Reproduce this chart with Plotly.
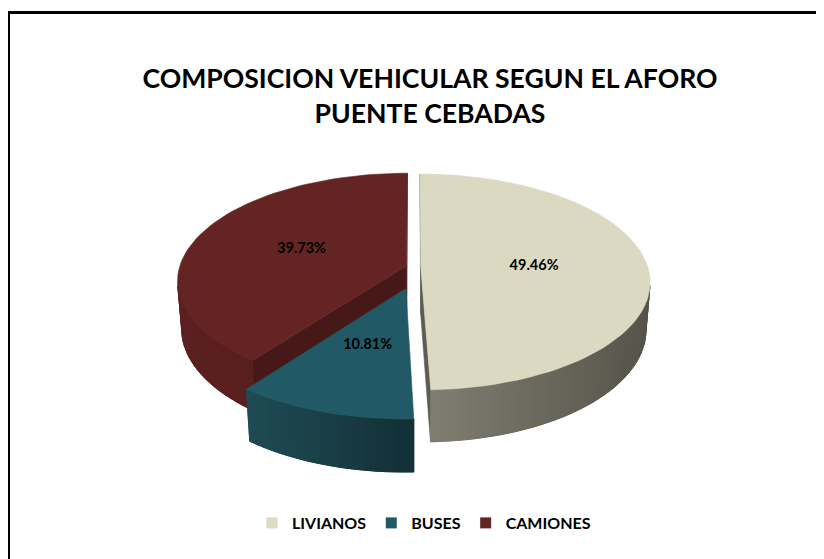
import numpy as np
import plotly.graph_objects as go

# ---------------- data ----------------
categories = ["LIVIANOS", "BUSES", "CAMIONES"]
values = [49.46, 10.81, 39.73]          # percent
title_lines = ["COMPOSICION VEHICULAR SEGUN EL AFORO", "PUENTE CEBADAS"]

# ---------------- style ----------------
top_colors = ["#DCD9C3", "#215966", "#632423"]
legend_colors = ["#DDD9C3", "#215967", "#632523"]
wall_left_colors = ["#827F73", "#1F4B55", "#5B201F"]
wall_right_colors = ["#56534A", "#132F36", "#531D1C"]
cut_colors = ["#5E5B52", "#17363E", "#461918"]
pulls = [0.03, 0.20, 0.035]
pull_dir_deg = [None, 190.0, None]      # explosion direction (None = slice middle)
draw_order = [2, 0, 1]

W, H = 824, 559
OFF = 8                      # page body margin of the browser
CX, CY = 414.0, 267.0
PHI = np.radians(27.8)
CS, SN = np.cos(PHI), np.sin(PHI)
DIST = 6.359
FOC = 1443.0
HGT = 0.2383
FONT = "Lato"


def px_x(px):
    return (px - OFF) / W


def px_y(py):
    return 1 - (py - OFF) / H


def proj(X, Y, Z):
    X = np.asarray(X, float); Y = np.asarray(Y, float); Z = np.asarray(Z, float)
    depth = DIST - (Y * SN + Z * CS)
    camx = X
    camy = Y * CS - Z * SN
    return CX + FOC * camx / depth, CY - FOC * camy / depth


def hex2rgb(h):
    h = h.lstrip("#")
    return np.array([int(h[i:i + 2], 16) for i in (0, 2, 4)], float)


def mix(c1, c2, t):
    c = hex2rgb(c1) * (1 - t) + hex2rgb(c2) * t
    return "rgb(%d,%d,%d)" % tuple(np.round(c).astype(int))


def signed_area(xs, ys):
    s = 0.0
    n = len(xs)
    for i in range(n):
        j = (i + 1) % n
        s += xs[i] * ys[j] - xs[j] * ys[i]
    return s


fig = go.Figure()


def add_poly(xs, ys, color, lw=0.6):
    xs = [float(v) for v in xs]
    ys = [float(v) for v in ys]
    fig.add_trace(go.Scatter(
        x=xs + [xs[0]], y=ys + [ys[0]], mode="lines",
        fill="toself", fillcolor=color, line=dict(color=color, width=lw),
        hoverinfo="skip", showlegend=False))


total = sum(values)
starts = np.concatenate([[0], np.cumsum(values)[:-1]]) / total * 2 * np.pi
ends = np.cumsum(values) / total * 2 * np.pi
label_pos = {}

for i in draw_order:
    t0, t1 = starts[i], ends[i]
    tm = 0.5 * (t0 + t1)
    tp = tm if pull_dir_deg[i] is None else np.radians(pull_dir_deg[i])
    ox, oz = pulls[i] * np.sin(tp), -pulls[i] * np.cos(tp)
    n = max(8, int(np.degrees(t1 - t0) / 2))
    th = np.linspace(t0, t1, n + 1)
    ax_, az_ = ox + np.sin(th), oz - np.cos(th)
    txs, tys = proj(ax_, np.zeros_like(th), az_)
    bxs, bys = proj(ax_, -HGT * np.ones_like(th), az_)
    apx_t, apy_t = proj(ox, 0, oz)
    apx_b, apy_b = proj(ox, -HGT, oz)
    xmin, xmax = min(txs.min(), apx_t), max(txs.max(), apx_t)

    # cut faces
    faces = [
        ([apx_t, txs[0], bxs[0], apx_b], [apy_t, tys[0], bys[0], apy_b]),
        ([txs[-1], apx_t, apx_b, bxs[-1]], [tys[-1], apy_t, apy_b, bys[-1]]),
    ]
    for fx, fy in faces:
        if signed_area(fx, fy) < 0:
            add_poly(fx, fy, cut_colors[i])
    # outer wall: visible segments
    vis = []
    for k in range(n):
        fx = [txs[k], txs[k + 1], bxs[k + 1], bxs[k]]
        fy = [tys[k], tys[k + 1], bys[k + 1], bys[k]]
        if signed_area(fx, fy) < 0:
            vis.append(k)
    if vis:
        ks = list(range(vis[0], vis[-1] + 2))
        bx = [txs[k] for k in ks] + [bxs[k] for k in reversed(ks)]
        by = [tys[k] for k in ks] + [bys[k] for k in reversed(ks)]
        add_poly(bx, by, mix(wall_left_colors[i], wall_right_colors[i], 0.5))
        for k in vis:
            fx = [txs[k], txs[k + 1], bxs[k + 1], bxs[k]]
            fy = [tys[k], tys[k + 1], bys[k + 1], bys[k]]
            t = ((fx[0] + fx[1]) / 2 - xmin) / max(1, (xmax - xmin))
            add_poly(fx, fy, mix(wall_left_colors[i], wall_right_colors[i], np.clip(t, 0, 1)), lw=1.0)
    # top face
    add_poly([apx_t] + list(txs), [apy_t] + list(tys), top_colors[i])

    lx, ly = proj(ox + 0.5 * np.sin(tm), 0, oz - 0.5 * np.cos(tm))
    label_pos[i] = (float(lx), float(ly))

# percentage labels
fig.add_trace(go.Scatter(
    x=[label_pos[i][0] for i in range(len(values))],
    y=[label_pos[i][1] for i in range(len(values))],
    mode="text", text=["%.2f%%" % v for v in values],
    textfont=dict(family=FONT, size=14.5, color="#000000", weight="bold"),
    hoverinfo="skip", showlegend=False))

# legend entries
for name, col in zip(categories, legend_colors):
    fig.add_trace(go.Scatter(
        x=[None], y=[None], mode="markers", name=name,
        marker=dict(symbol="square", size=11, color=col)))

fig.update_layout(
    width=W, height=H,
    margin=dict(l=0, r=0, t=0, b=0),
    paper_bgcolor="white", plot_bgcolor="white",
    xaxis=dict(range=[OFF, W + OFF], visible=False, fixedrange=True),
    yaxis=dict(range=[H + OFF, OFF], visible=False, fixedrange=True),
    title=dict(
        text="<br>".join(title_lines),
        x=px_x(430), xanchor="center", y=1 - 80 / H, yanchor="middle",
        font=dict(family=FONT, size=26.6, color="#000000", weight="bold")),
    legend=dict(
        orientation="h", x=px_x(424), xanchor="center", y=px_y(523),
        yanchor="middle", font=dict(family=FONT, size=16, color="#000000", weight="bold"),
        itemclick=False, itemdoubleclick=False, bgcolor="rgba(0,0,0,0)"),
    shapes=[dict(type="rect", xref="x", yref="y", x0=8.5, y0=12.5, x1=W + 40, y1=H + 40,
                 line=dict(color="#000000", width=3), fillcolor="rgba(0,0,0,0)")],
    showlegend=True,
)

fig.write_html("out.html")
